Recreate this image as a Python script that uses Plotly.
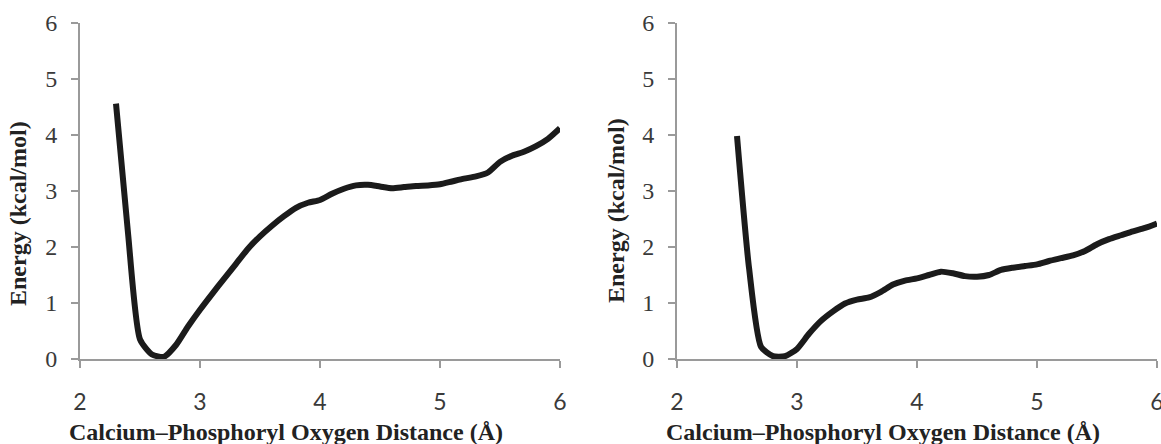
import plotly.graph_objects as go

# ---- data ----
dist_a = [2.3, 2.4, 2.5, 2.6, 2.7, 2.8, 2.9, 3.0, 3.1, 3.2, 3.3, 3.4, 3.5, 3.6, 3.7, 3.8,
          3.9, 4.0, 4.1, 4.2, 4.3, 4.4, 4.5, 4.6, 4.7, 4.8, 4.9, 5.0, 5.1, 5.2, 5.3, 5.4,
          5.5, 5.6, 5.7, 5.8, 5.9, 6.0]
energy_a = [4.56, 2.25, 0.35, 0.08, 0.04, 0.25, 0.58, 0.88, 1.16, 1.43, 1.70, 1.97, 2.19,
            2.38, 2.55, 2.70, 2.79, 2.84, 2.95, 3.04, 3.10, 3.11, 3.08, 3.05, 3.07, 3.09,
            3.10, 3.12, 3.17, 3.22, 3.26, 3.33, 3.52, 3.63, 3.70, 3.80, 3.93, 4.12]

dist_b = [2.5, 2.6, 2.7, 2.8, 2.9, 3.0, 3.1, 3.2, 3.3, 3.4, 3.5, 3.6, 3.7, 3.8, 3.9, 4.0,
          4.1, 4.2, 4.3, 4.4, 4.5, 4.6, 4.7, 4.8, 4.9, 5.0, 5.1, 5.2, 5.3, 5.4, 5.5, 5.6,
          5.7, 5.8, 5.9, 6.0]
energy_b = [3.98, 1.63, 0.22, 0.05, 0.05, 0.18, 0.45, 0.68, 0.85, 0.99, 1.06, 1.10, 1.20,
            1.33, 1.40, 1.44, 1.50, 1.56, 1.53, 1.48, 1.47, 1.50, 1.59, 1.63, 1.66, 1.69,
            1.75, 1.80, 1.85, 1.93, 2.05, 2.14, 2.21, 2.28, 2.34, 2.42]

x_ticks = [2, 3, 4, 5, 6]
y_ticks = [0, 1, 2, 3, 4, 5, 6]
x_title = "Calcium–Phosphoryl Oxygen Distance (Å)"
y_title = "Energy (kcal/mol)"

W, H = 1161, 444
AXIS_COLOR = "#9a9a9a"
LINE_COLOR = "#1b1b1b"
SERIF = "Liberation Serif, Times New Roman, serif"
SANS = "Lato, Open Sans, sans-serif"

fig = go.Figure()
fig.add_trace(go.Scatter(x=dist_a, y=energy_a, mode="lines",
                         line=dict(color=LINE_COLOR, width=6, shape="spline", smoothing=0.6),
                         xaxis="x", yaxis="y", showlegend=False, hoverinfo="skip"))
fig.add_trace(go.Scatter(x=dist_b, y=energy_b, mode="lines",
                         line=dict(color=LINE_COLOR, width=6, shape="spline", smoothing=0.6),
                         xaxis="x2", yaxis="y2", showlegend=False, hoverinfo="skip"))

ydom = [1 - 359 / H, 1 - 23 / H]
xdom1 = [80 / W, 560 / W]
xdom2 = [677 / W, 1157 / W]

def xaxis(dom, anchor):
    return dict(domain=dom, anchor=anchor, range=[2, 6], tickvals=x_ticks,
                showgrid=False, zeroline=False, showline=True, linecolor=AXIS_COLOR,
                linewidth=2, ticks="outside", ticklen=7, tickwidth=2, tickcolor=AXIS_COLOR,
                tickfont=dict(family=SANS, size=23, color="#3a3a3a"),
                ticklabelstandoff=14, ticklabeloverflow="allow",
                automargin=False, fixedrange=True)

def yaxis(anchor):
    return dict(domain=ydom, anchor=anchor, range=[0, 6], tickvals=y_ticks,
                showgrid=False, zeroline=False, showline=True, linecolor=AXIS_COLOR,
                linewidth=2, ticks="outside", ticklen=7, tickwidth=2, tickcolor=AXIS_COLOR,
                tickfont=dict(family=SERIF, size=24, color="#3a3a3a"),
                ticklabelstandoff=9, automargin=False, fixedrange=True)

fig.update_layout(
    width=W, height=H,
    margin=dict(l=0, r=0, t=0, b=0),
    paper_bgcolor="white", plot_bgcolor="white",
    xaxis=xaxis(xdom1, "y"), yaxis=yaxis("x"),
    xaxis2=xaxis(xdom2, "y2"), yaxis2=yaxis("x2"),
)

title_font = dict(family=SERIF, size=24, color="#222222")
for cx in [286, 883]:
    fig.add_annotation(text="<b>" + x_title + "</b>", x=cx / W, y=1 - 432 / H,
                       xref="paper", yref="paper", showarrow=False,
                       xanchor="center", yanchor="middle", font=title_font)
for cx, cy in [(18, 214), (616, 211)]:
    fig.add_annotation(text="<b>" + y_title + "</b>", x=cx / W, y=1 - cy / H,
                       xref="paper", yref="paper", showarrow=False, textangle=-90,
                       xanchor="center", yanchor="middle", font=title_font)

fig.write_html("out.html", config={"displayModeBar": False},
               post_script="document.body.style.margin='0px';document.body.style.overflow='hidden';")
